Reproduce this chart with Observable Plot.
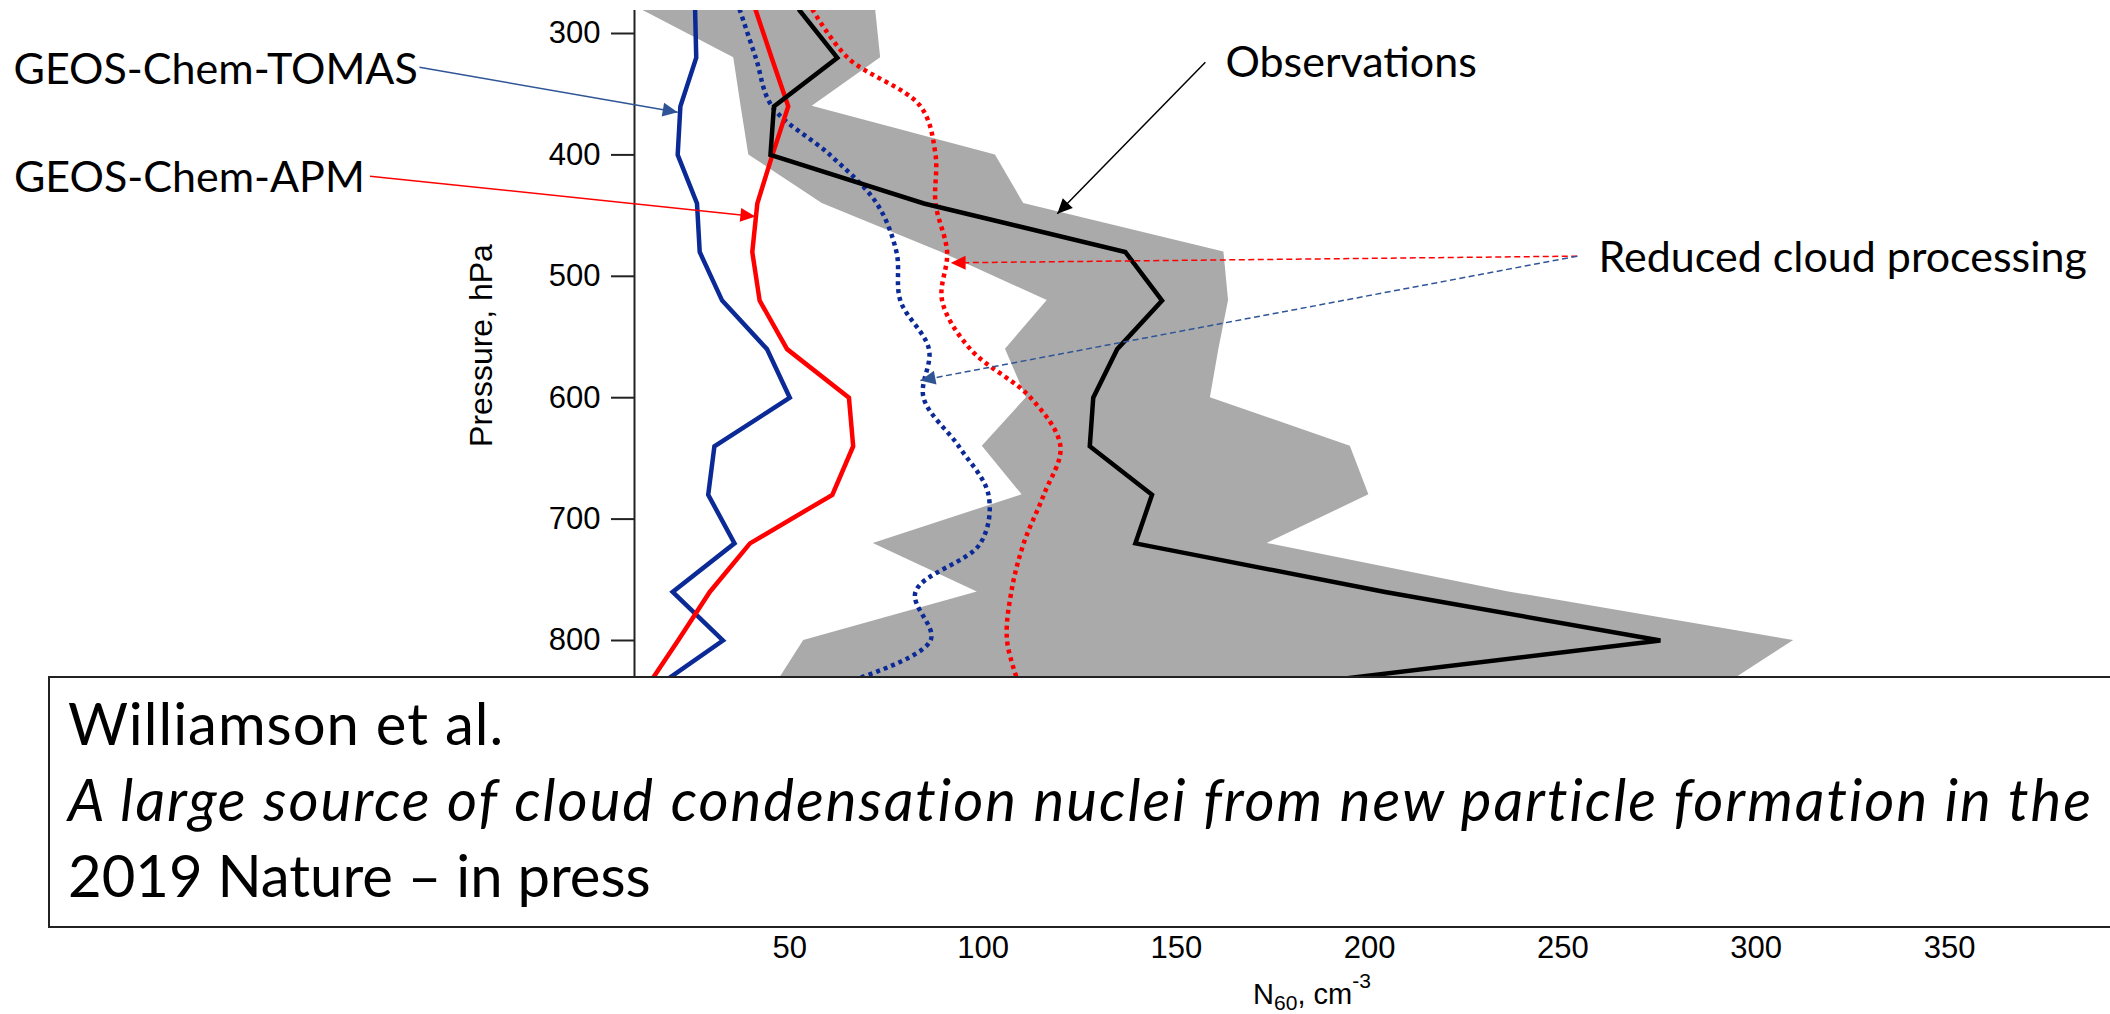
<!DOCTYPE html>
<html>
<head>
<meta charset="utf-8">
<script src="https://cdn.jsdelivr.net/npm/d3@7"></script>
<script src="https://cdn.jsdelivr.net/npm/@observablehq/plot@0.6"></script>
<style>
  html, body { margin: 0; padding: 0; background: #fff; }
  #wrap { position: relative; width: 2110px; height: 1014px; overflow: hidden; }
  #citation {
    position: absolute; left: 48px; top: 676px; width: 2120px; height: 252px;
    box-sizing: border-box; border: 2px solid #222; background: #fff;
    font-family: Lato, "Open Sans", sans-serif; font-size: 58px; line-height: 76px;
    padding: 7px 0 0 18px; white-space: nowrap; color: #000;
  }
  #citation .authors { letter-spacing: 1px; }
  #citation i { font-style: italic; letter-spacing: 2px; }
</style>
</head>
<body>
<div id="wrap">
  <div id="chart"></div>
  <div id="citation"><span class="authors">Williamson et al.</span><br><i>A large source of cloud condensation nuclei from new particle formation in the</i><br>2019 Nature – in press</div>
</div>
<script>
// Pressure levels (hPa) of the vertical profiles
const pressure = [280, 320, 360, 400, 440, 480, 520, 560, 600, 640, 680, 720, 760, 800, 840];

// Observed N60 (cm^-3): median and spread
const obsMedian = [52.3, 62.3, 45.9, 45.0, 84.7, 136.8, 146.3, 134.7, 128.5, 127.6, 143.7, 139.4, 204, 275.2, 171];
const obsLow    = [11.4, 35.5, 37.4, 39.4, 58.4, 89, 116.6, 105.8, 111.2, 99.8, 110.1, 71.6, 98.5, 53.6, 45.6];
const obsHigh   = [72.2, 73.5, 55.8, 103.2, 110.5, 162.3, 163.5, 161, 158.8, 195, 199.8, 173.5, 236, 309.7, 290.3];

// Model profiles
const tomas        = [25.5, 25.8, 21.7, 21.0, 26.0, 26.7, 32.5, 44.1, 50.0, 30.5, 28.9, 35.7, 19.7, 32.7, 14.7];
const apm          = [41.1, 45.3, 49.6, 45.5, 41.6, 40.3, 42.2, 49.3, 65.3, 66.4, 61.0, 39.7, 29.3, 21.1, 12.7];
const tomasReduced = [37.0, 41.2, 45.4, 60.4, 72.5, 77.6, 78.6, 86.0, 84.6, 93.7, 101.4, 99.3, 82.5, 86.4, 59];
const apmReduced   = [55.8, 65.0, 83.8, 87.7, 87.7, 90.7, 89.4, 96.7, 112.3, 120.0, 115.7, 110.5, 107.3, 106.2, 109.7];

// Axes
const xTicks = [50, 100, 150, 200, 250, 300, 350];
const yTicks = [300, 400, 500, 600, 700, 800];
const xDomain = [9.83, 360.6];
const yDomain = [281.05, 1000];

// Annotation labels and their pointers (data coordinates)
const labels = [
  {text: "GEOS-Chem-TOMAS", x: -150.8, y: 341.4},
  {text: "GEOS-Chem-APM", x: -150.7, y: 430.7},
  {text: "Observations", x: 162.7, y: 336.0},
  {text: "Reduced cloud processing", x: 259.2, y: 496.6}
];
const pointers = [
  {x1: -45.8, y1: 327.8, x2: 21.0, y2: 364.8, color: "#2f5597", dashed: false},
  {x1: -58.6, y1: 417.5, x2: 41.1, y2: 450.7, color: "#ff0000", dashed: false},
  {x1: 157.5, y1: 323.6, x2: 119.2, y2: 448.5, color: "#000000", dashed: false},
  {x1: 253.7, y1: 483.4, x2: 91.6, y2: 488.9, color: "#ff0000", dashed: true},
  {x1: 253.7, y1: 483.4, x2: 83.8, y2: 585.8, color: "#2f5597", dashed: true}
];

const rows = pressure.map((p, i) => ({
  p,
  obs: obsMedian[i], lo: obsLow[i], hi: obsHigh[i],
  tomas: tomas[i], apm: apm[i],
  tomasReduced: tomasReduced[i], apmReduced: apmReduced[i]
}));

const navy = "#0b2a96";
const red = "#ff0000";
const labelFont = "Lato, 'Open Sans', sans-serif";
const axisFont = "'Liberation Sans', Arial, Helvetica, sans-serif";

// Filled triangular arrowhead
function triangleHead(color, context) {
  const doc = (context && context.document) || document;
  const ns = "http://www.w3.org/2000/svg";
  const m = doc.createElementNS(ns, "marker");
  m.setAttribute("viewBox", "-16 -8 16 16");
  m.setAttribute("markerWidth", 16);
  m.setAttribute("markerHeight", 16);
  m.setAttribute("markerUnits", "userSpaceOnUse");
  m.setAttribute("refX", 0);
  m.setAttribute("refY", 0);
  m.setAttribute("orient", "auto");
  const path = doc.createElementNS(ns, "path");
  path.setAttribute("d", "M-15,-7L0,0L-15,7Z");
  path.setAttribute("fill", color);
  path.setAttribute("stroke", "none");
  m.appendChild(path);
  return m;
}

function profile(key, color, dotted) {
  return Plot.line(rows, {
    x: key, y: "p", stroke: color, clip: true,
    strokeLinejoin: "miter", strokeMiterlimit: 4,
    ...(dotted
      ? {strokeWidth: 4.5, strokeDasharray: "4,4", strokeLinecap: "butt", curve: "catmull-rom"}
      : {strokeWidth: 4.5, strokeLinecap: "butt"})
  });
}

function build(head) {
  return Plot.plot({
    width: 2110,
    height: 1014,
    marginLeft: 634,
    marginRight: 120,
    marginTop: 10,
    marginBottom: 131.2,
    style: {fontFamily: axisFont, fontSize: "31px", color: "#000", background: "#fff"},
    x: {domain: xDomain, label: null},
    y: {domain: yDomain, reverse: true, label: null},
    marks: [
      Plot.areaX(rows, {y: "p", x1: "lo", x2: "hi", fill: "#aaaaaa", clip: true}),
      profile("tomasReduced", navy, true),
      profile("apmReduced", red, true),
      profile("tomas", navy, false),
      profile("apm", red, false),
      profile("obs", "#000", false),
      Plot.ruleX([xDomain[0]], {stroke: "#222", strokeWidth: 2}),
      Plot.axisY({ticks: yTicks, tickSize: 23, tickPadding: 11, strokeWidth: 2, stroke: "#222", fontSize: 31, label: null}),
      Plot.axisX({ticks: xTicks, tickSize: 23, tickPadding: 30, strokeWidth: 2, stroke: "#222", fontSize: 31, label: null}),
      Plot.text(["Pressure, hPa"], {text: (d) => d, frameAnchor: "left", rotate: -90, dx: -153, fontSize: 32, fontFamily: axisFont}),
      ...pointers.map((d) => Plot.link([d], {
        x1: "x1", y1: "y1", x2: "x2", y2: "y2",
        stroke: d.color, strokeWidth: 1.5,
        strokeDasharray: d.dashed ? "6,3.5" : null,
        markerEnd: head
      })),
      Plot.text(labels, {x: "x", y: "y", text: "text", textAnchor: "start", lineAnchor: "bottom",
        fontFamily: labelFont, fontSize: 43, fill: "#000"})
    ]
  });
}

let plot;
try {
  plot = build(triangleHead);
} catch (e) {
  plot = build("arrow");
}

// x-axis title with subscript and superscript
const xs = plot.scale("x");
const ys = plot.scale("y");
const cx = (xs.range[0] + xs.range[1]) / 2;
const frameBottom = Math.max(...ys.range);
const title = d3.select(plot).append("text")
  .attr("x", cx)
  .attr("y", frameBottom + 121)
  .attr("text-anchor", "middle")
  .attr("font-family", axisFont)
  .attr("font-size", 29)
  .attr("fill", "#000");
title.append("tspan").text("N");
title.append("tspan").attr("font-size", 21).attr("dy", 6).text("60");
title.append("tspan").attr("dy", -6).text(", cm");
title.append("tspan").attr("font-size", 21).attr("dy", -16).text("-3");

document.getElementById("chart").appendChild(plot);
</script>
</body>
</html>
